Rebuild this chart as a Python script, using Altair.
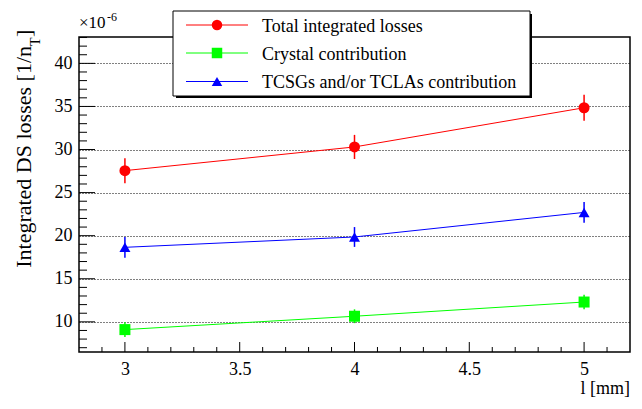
import altair as alt
import pandas as pd

# ---- data ----
l_mm = [3, 4, 5]
series_names = ["Total integrated losses", "Crystal contribution", "TCSGs and/or TCLAs contribution"]
total = [27.55, 30.3, 34.85]
total_err = [1.45, 1.4, 1.5]
crystal = [9.1, 10.65, 12.3]
crystal_err = [0.85, 0.8, 0.85]
tcs = [18.65, 19.85, 22.7]
tcs_err = [1.2, 1.15, 1.2]

colors = ["#ff0000", "#00ff00", "#0000ff"]
shapes = ["circle", "square", "triangle-up"]

x_major = [3, 3.5, 4, 4.5, 5]
x_minor = [round(2.9 + 0.1 * i, 1) for i in range(23) if round((2.9 + 0.1 * i) * 10) % 5 != 0]
y_major = [10, 15, 20, 25, 30, 35, 40]
y_minor = [v for v in range(7, 44) if v % 5 != 0]

rows = []
for name, vals, errs in zip(series_names, [total, crystal, tcs], [total_err, crystal_err, tcs_err]):
    for l, v, e in zip(l_mm, vals, errs):
        rows.append({"series": name, "l": l, "val": v, "lo": v - e, "hi": v + e})
df = pd.DataFrame(rows)

W, H = 551, 315
FONT = "Liberation Serif"

xs = alt.Scale(domain=[2.8, 5.2], nice=False, zero=False)
ys = alt.Scale(domain=[6.5, 43.06], nice=False, zero=False)
x_axis = alt.Axis(values=x_major, format="~g", title=None, ticks=False, tickSize=0, domain=False,
                  grid=False, labelFont=FONT, labelFontSize=18, labelColor="black", labelPadding=8)
y_axis = alt.Axis(values=y_major, title=None, ticks=False, tickSize=0, domain=False,
                  grid=True, gridDash=[1, 2], gridColor="black", gridOpacity=1, gridWidth=1,
                  labelFont=FONT, labelFontSize=18, labelColor="black", labelPadding=7)


def X(f):
    return alt.X(f, type="quantitative", scale=xs, axis=x_axis)


def Y(f):
    return alt.Y(f, type="quantitative", scale=ys, axis=y_axis)


color_scale = alt.Scale(domain=series_names, range=colors)
shape_scale = alt.Scale(domain=series_names, range=shapes)
col = alt.Color("series:N", scale=color_scale, legend=None)

base = alt.Chart(df)
lines = base.mark_line(strokeWidth=1).encode(x=X("l"), y=Y("val"), color=col, detail="series:N")
errbars = base.mark_rule(strokeWidth=1.5).encode(x=X("l"), y=Y("lo"), y2="hi:Q", color=col)
points = base.mark_point(filled=True, size=121, opacity=1).encode(
    x=X("l"), y=Y("val"), color=col,
    shape=alt.Shape("series:N", scale=shape_scale, legend=None))

# ROOT-style inward ticks
yt_minor = alt.Chart(pd.DataFrame({"v": y_minor})).mark_rule(color="black", strokeWidth=1).encode(
    y=Y("v"), x=alt.value(0), x2=alt.value(8))
yt_major = alt.Chart(pd.DataFrame({"v": y_major})).mark_rule(color="black", strokeWidth=1).encode(
    y=Y("v"), x=alt.value(0), x2=alt.value(16))
xt_minor = alt.Chart(pd.DataFrame({"v": x_minor})).mark_rule(color="black", strokeWidth=1).encode(
    x=X("v"), y=alt.value(H), y2=alt.value(H - 5))
xt_major = alt.Chart(pd.DataFrame({"v": x_major})).mark_rule(color="black", strokeWidth=1).encode(
    x=X("v"), y=alt.value(H), y2=alt.value(H - 10))

one = pd.DataFrame({"a": [0]})

# legend box with shadow
shadow = alt.Chart(one).mark_rect(fill="black").encode(
    x=alt.value(97), x2=alt.value(453), y=alt.value(-23), y2=alt.value(61))
box = alt.Chart(one).mark_rect(fill="white", stroke="black", strokeWidth=1).encode(
    x=alt.value(94), x2=alt.value(451), y=alt.value(-26), y2=alt.value(59))

legend_layers = []
row_y = [-12, 16, 44.5]
for name, c, s, ry in zip(series_names, colors, shapes, row_y):
    legend_layers.append(alt.Chart(one).mark_rule(color=c, strokeWidth=1).encode(
        x=alt.value(107), x2=alt.value(169), y=alt.value(ry)))
    legend_layers.append(alt.Chart(one).mark_point(filled=True, size=110, opacity=1, color=c, shape=s).encode(
        x=alt.value(138), y=alt.value(ry)))
    legend_layers.append(alt.Chart(one).mark_text(text=name, font=FONT, fontSize=18, align="left",
                                                  baseline="alphabetic", color="black").encode(
        x=alt.value(183), y=alt.value(ry + 6.5)))

# exponent label
exp_main = alt.Chart(one).mark_text(text="×10", font=FONT, fontSize=17, align="left",
                                    baseline="alphabetic", color="black").encode(x=alt.value(0), y=alt.value(-9))
exp_sup = alt.Chart(one).mark_text(text="-6", font=FONT, fontSize=12, align="left",
                                   baseline="alphabetic", color="black").encode(x=alt.value(28), y=alt.value(-16))

# y title with subscript
yt_a = alt.Chart(one).mark_text(text="Integrated DS losses [1/n", font=FONT, fontSize=22, angle=270,
                                align="right", baseline="alphabetic", color="black").encode(
    x=alt.value(-48), y=alt.value(9))
yt_b = alt.Chart(one).mark_text(text="T", font=FONT, fontSize=14, angle=270,
                                align="left", baseline="alphabetic", color="black").encode(
    x=alt.value(-39), y=alt.value(9))
yt_c = alt.Chart(one).mark_text(text="]", font=FONT, fontSize=22, angle=270,
                                align="left", baseline="alphabetic", color="black").encode(
    x=alt.value(-48), y=alt.value(0))

# x title
xtitle = alt.Chart(one).mark_text(text="l [mm]", font=FONT, fontSize=18, align="right",
                                  baseline="alphabetic", color="black").encode(x=alt.value(W), y=alt.value(357))

chart = alt.layer(
    lines, errbars, points, yt_minor, yt_major, xt_minor, xt_major,
    shadow, box, *legend_layers, exp_main, exp_sup, yt_a, yt_b, yt_c, xtitle
).properties(
    width=W, height=H,
    autosize=alt.AutoSizeParams(type="none"),
    padding={"left": 71, "top": 29, "right": 4, "bottom": 50},
    background="white",
).configure_view(stroke="black", strokeWidth=1.5)

chart.save("out.html", embed_options={"renderer": "svg", "actions": False})
